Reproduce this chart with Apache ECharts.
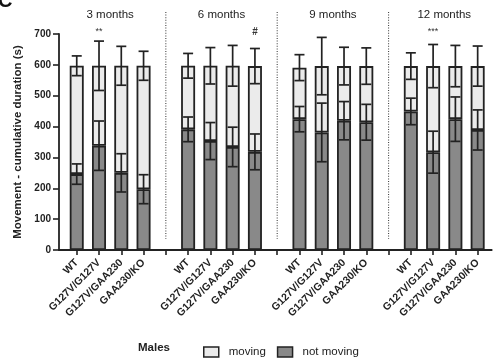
<!DOCTYPE html>
<html>
<head>
<meta charset="utf-8">
<script src="https://cdn.jsdelivr.net/npm/echarts@6/dist/echarts.min.js"></script>
<style>html,body{margin:0;padding:0;background:#fff;}#c{width:498px;height:361px;}</style>
</head>
<body>
<div id="c"></div>
<script>
// ---- data ----
const groups = ['3 months', '6 months', '9 months', '12 months'];
const genotypes = ['WT', 'G127V/G127V', 'G127V/GAA230', 'GAA230/KO'];
// not moving (s), mean and SD, per group x genotype
const notMoving   = [[246, 338, 250, 197], [391, 353, 334, 318], [424, 381, 419, 414], [449, 317, 424, 389]];
const notMovingSD = [[33, 80, 62, 47], [40, 60, 64, 58], [41, 95, 62, 58], [43, 68, 72, 65]];
// moving (s), mean and SD
const moving   = [[351, 259, 347, 400], [206, 244, 263, 278], [167, 215, 177, 182], [147, 279, 172, 207]];
const movingSD = [[32, 80, 63, 47], [40, 59, 66, 57], [42, 93, 61, 59], [43, 70, 67, 65]];
// significance marks
const signif = [['', '**', '', ''], ['', '', '', '#'], ['', '', '', ''], ['', '***', '', '']];
const yTicks = { min: 0, max: 700, step: 100 };
const legendNames = ['moving', 'not moving'];

// ---- build category layout (groups separated by empty gap categories) ----
const categories = [];
const idxOf = []; // idxOf[g][k] -> category index
groups.forEach((g, gi) => {
  if (gi > 0) categories.push('');
  idxOf.push(genotypes.map(gt => { categories.push(gt); return categories.length - 1; }));
});
const gapIdx = categories.map((c, i) => c === '' ? i : -1).filter(i => i >= 0);

const nmData = categories.map(() => null);
const mvData = categories.map(() => null);
const errData = [];
const sigData = [];
groups.forEach((g, gi) => genotypes.forEach((gt, k) => {
  const i = idxOf[gi][k];
  nmData[i] = notMoving[gi][k];
  mvData[i] = moving[gi][k];
  errData.push([i, notMoving[gi][k], notMovingSD[gi][k]]);
  errData.push([i, notMoving[gi][k] + moving[gi][k], movingSD[gi][k]]);
  if (signif[gi][k]) sigData.push({ value: [i], name: signif[gi][k] });
}));
const titleData = groups.map((g, gi) => ({ value: [idxOf[gi][0], idxOf[gi][3]], name: g }));

const INK = '#222';
const FONT = '"Liberation Sans", Arial, sans-serif';

const chart = echarts.init(document.getElementById('c'), null, { renderer: 'canvas' });
chart.setOption({
  animation: false,
  backgroundColor: '#fff',
  textStyle: { fontFamily: FONT },
  grid: [
    { left: 65.6, right: 9.2, top: 34, bottom: 111 },
    { left: 59, right: 6.3, top: 34, bottom: 111 }
  ],
  xAxis: [
    {
      type: 'category', gridIndex: 0, data: categories,
      axisLine: { show: false },
      axisTick: { show: true, alignWithLabel: true, interval: 0, length: 5, lineStyle: { color: INK, width: 1.6 } },
      axisLabel: { interval: 0, rotate: 45, margin: 11, color: INK, fontFamily: FONT, fontWeight: 'bold', fontSize: 10.5 },
      splitLine: { show: false }
    },
    {
      type: 'value', gridIndex: 1, min: 0, max: 1,
      axisLine: { show: true, lineStyle: { color: INK, width: 1.8 } },
      axisTick: { show: false }, axisLabel: { show: false }, splitLine: { show: false }
    }
  ],
  yAxis: [
    {
      type: 'value', gridIndex: 0, min: yTicks.min, max: yTicks.max, interval: yTicks.step,
      show: false
    },
    {
      type: 'value', gridIndex: 1, min: yTicks.min, max: yTicks.max, interval: yTicks.step,
      name: 'Movement - cumulative duration (s)', nameLocation: 'middle', nameGap: 27,
      nameTextStyle: { color: INK, fontFamily: FONT, fontWeight: 'bold', fontSize: 11.5 },
      axisLine: { show: true, lineStyle: { color: INK, width: 1.8 } },
      axisTick: { show: true, length: 6, lineStyle: { color: INK, width: 1.6 } },
      axisLabel: { margin: 8, color: INK, fontFamily: FONT, fontWeight: 'bold', fontSize: 10 },
      splitLine: { show: false }
    }
  ],
  legend: {
    data: legendNames, left: 198, top: 341, itemWidth: 15, itemHeight: 10, itemGap: 11,
    icon: 'rect', selectedMode: false,
    itemStyle: { borderColor: INK, borderWidth: 1.5 },
    textStyle: { color: INK, fontFamily: FONT, fontSize: 11.5, padding: [0, 0, 0, 5] }
  },
  graphic: [
    { type: 'text', left: 138, top: 342, style: { text: 'Males', fill: INK, font: 'bold 11.5px ' + FONT } },
    { type: 'text', x: -2, y: 11, style: { text: 'C', fill: '#111', font: 'bold 20px ' + FONT, verticalAlign: 'bottom' } }
  ],
  series: [
    {
      name: 'not moving', type: 'bar', stack: 'a', xAxisIndex: 0, yAxisIndex: 0, barWidth: 14,
      data: nmData, itemStyle: { color: '#898989', borderColor: INK, borderWidth: 1.8 }, z: 2
    },
    {
      name: 'moving', type: 'bar', stack: 'a', xAxisIndex: 0, yAxisIndex: 0, barWidth: 14,
      data: mvData, itemStyle: { color: '#ebebeb', borderColor: INK, borderWidth: 1.8 }, z: 2
    },
    {
      type: 'custom', xAxisIndex: 0, yAxisIndex: 0, z: 5, clip: false,
      data: errData, encode: { x: 0, y: 1 },
      renderItem: (params, api) => {
        const x = api.value(0), top = api.value(1), sd = api.value(2);
        const hi = api.coord([x, top + sd]), lo = api.coord([x, top - sd]);
        const c = 5;
        const st = { stroke: INK, lineWidth: 1.7, fill: null };
        return {
          type: 'group', children: [
            { type: 'line', shape: { x1: hi[0], y1: hi[1], x2: lo[0], y2: lo[1] }, style: st },
            { type: 'line', shape: { x1: hi[0] - c, y1: hi[1], x2: hi[0] + c, y2: hi[1] }, style: st },
            { type: 'line', shape: { x1: lo[0] - c, y1: lo[1], x2: lo[0] + c, y2: lo[1] }, style: st }
          ]
        };
      }
    },
    {
      type: 'custom', xAxisIndex: 0, yAxisIndex: 0, z: 5, clip: false,
      data: gapIdx.map(i => [i]), encode: { x: 0 },
      renderItem: (params, api) => {
        const x = api.coord([api.value(0), 0])[0];
        const yb = api.coord([api.value(0), 0])[1];
        const yt = api.coord([api.value(0), yTicks.max])[1];
        return {
          type: 'line', shape: { x1: x, y1: yt - 22, x2: x, y2: yb - 11 },
          style: { stroke: '#444', lineWidth: 1.1, lineDash: [1, 1.6] }
        };
      }
    },
    {
      type: 'custom', xAxisIndex: 0, yAxisIndex: 0, z: 6, clip: false,
      data: sigData, encode: { x: 0 },
      renderItem: (params, api) => {
        const p = api.coord([api.value(0), yTicks.max]);
        const t = sigData[params.dataIndex].name;
        return {
          type: 'text', x: p[0], y: p[1] - 2,
          style: { text: t, fill: '#333', font: (t === '#' ? 'bold 10px ' : '9px ') + FONT, align: 'center', verticalAlign: 'middle' }
        };
      }
    },
    {
      type: 'custom', xAxisIndex: 0, yAxisIndex: 0, z: 6, clip: false,
      data: titleData, encode: { x: [0, 1] },
      renderItem: (params, api) => {
        const a = api.coord([api.value(0), yTicks.max]);
        const b = api.coord([api.value(1), yTicks.max]);
        return {
          type: 'text', x: (a[0] + b[0]) / 2, y: a[1] - 19.5,
          style: { text: titleData[params.dataIndex].name, fill: INK, font: '11.5px ' + FONT, align: 'center', verticalAlign: 'middle' }
        };
      }
    }
  ]
});
</script>
</body>
</html>
